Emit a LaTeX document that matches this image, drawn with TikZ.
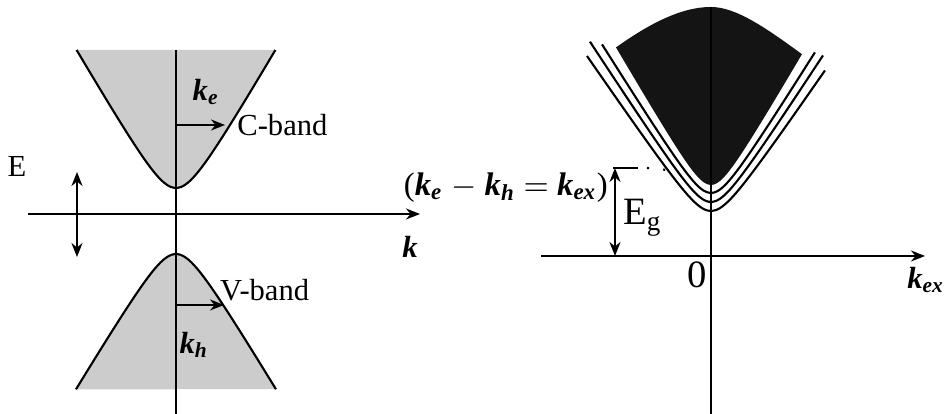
\documentclass[tikz,border=0pt]{standalone}
\usepackage{fontspec}
\setmainfont{Liberation Serif}
\usetikzlibrary{arrows.meta,positioning,calc}

\newcommand{\kvec}[1]{\textbf{\textit{k}}\textsubscript{\textbf{\textit{#1}}}}

\begin{document}
\begin{tikzpicture}[
    font=\fontsize{8.7}{10}\selectfont,
    declare function={hyp(\x,\a,\b)=\a*(sqrt(1+(\x/\b)^2)-1);},
    axis/.style={semithick},
    arrow/.style={-{Stealth[length=1.4mm,width=1.1mm]}, semithick},
    dblarrow/.style={{Stealth[length=1.4mm,width=1.1mm]}-{Stealth[length=1.4mm,width=1.1mm]}, semithick},
    band/.style={fill=gray!40},
    curve/.style={semithick, samples=60, smooth},
    lbl/.style={inner sep=1pt}
]
\useasboundingbox (-1.76,-2.00) rectangle (7.70,2.14);

% left: conduction and valence band
\fill[band] plot[curve, domain=-0.994:0.994] (\x,{0.26+hyp(\x,0.37,0.215)}) -- cycle;
\draw[curve] plot[domain=-0.994:0.994] (\x,{0.26+hyp(\x,0.37,0.215)});
\fill[band] plot[curve, domain=-1:1] (\x,{-0.40-hyp(\x,0.35,0.21)}) -- cycle;
\draw[curve] plot[domain=-1:1] (\x,{-0.40-hyp(\x,0.35,0.21)});

\coordinate (kL) at (-1.48,0);
\coordinate (kR) at (2.44,0);
\coordinate (eT) at (0,1.64);
\coordinate (eB) at (0,-2.00);
\draw[arrow] (kL) -- (kR);
\draw[axis] (eT) -- (eB);

\node[lbl] (ke) at (0.30,1.22) {\kvec{e}};
\node[anchor=west] (cband) at (0.49,0.89) {C-band};
\coordinate (cstart) at (0,0.89);
\draw[arrow] (cstart) -- (cband.west);

\node[lbl, anchor=west] (vband) at (0.40,-0.76) {V-band};
\coordinate (vstart) at (0,-0.91);
\coordinate (vend) at (0.48,-0.91);
\draw[arrow] (vstart) -- (vend);
\node[lbl] (kh) at (0.18,-1.31) {\kvec{h}};

\node[lbl] (klab) at (2.34,-0.33) {\textbf{\textit{k}}};
\node[lbl] (elab) at (-1.59,0.47) {E};
\coordinate (etop) at (-0.99,0.42);
\coordinate (ebot) at (-0.99,-0.43);
\draw[dblarrow] (etop) -- (ebot);

% right: exciton dispersion
\begin{scope}[shift={(5.35,-0.42)}]
\fill[black!92] plot[curve, domain=-0.95:0.91] (\x,{0.71+hyp(\x,0.28,0.163)})
    .. controls (0.55,2.28) and (0.25,2.49) .. (0,2.49)
    .. controls (-0.3,2.49) and (-0.62,2.32) .. (-0.95,{0.71+hyp(-0.95,0.28,0.163)}) -- cycle;

\draw[curve] plot[domain=-1.09:1.04] (\x,{0.63+hyp(\x,0.28,0.175)});
\draw[curve] plot[domain=-1.21:1.12] (\x,{0.54+hyp(\x,0.28,0.182)});
\draw[curve] plot[domain=-1.24:1.14] (\x,{0.45+hyp(\x,0.28,0.192)});

\coordinate (xL) at (-1.70,0);
\coordinate (xR) at (2.14,0);
\coordinate (yT) at (0,2.49);
\coordinate (yB) at (0,-1.58);
\draw[arrow] (xL) -- (xR);
\draw[axis] (yT) -- (yB);

\node[lbl] (zero) at (-0.14,-0.19) {\fontsize{11}{12}\selectfont 0};
\node[lbl] (kex) at (2.15,-0.24) {\kvec{ex}};

\coordinate (gbot) at (-0.96,0);
\coordinate (gtop) at (-0.96,0.88);
\coordinate (tickL) at (-0.98,0.88);
\coordinate (tickR) at (-0.73,0.88);
\coordinate (dotL) at (-0.64,0.88);
\coordinate (dotR) at (-0.44,0.86);
\draw[dblarrow] (gbot) -- (gtop);
\draw[semithick] (tickL) -- (tickR);
\draw[dash pattern=on 0.6pt off 4pt, semithick] (dotL) -- (dotR);
\node[lbl, anchor=west] (eg) at (-0.92,0.38) {\fontsize{11}{12}\selectfont E\textsubscript{g}};

\node[lbl, anchor=east] (kform) at (-0.99,0.68)
    {\fontsize{9.3}{11}\selectfont (\kvec{e} $-$ \kvec{h} $=$ \kvec{ex})};
\end{scope}
\end{tikzpicture}
\end{document}
